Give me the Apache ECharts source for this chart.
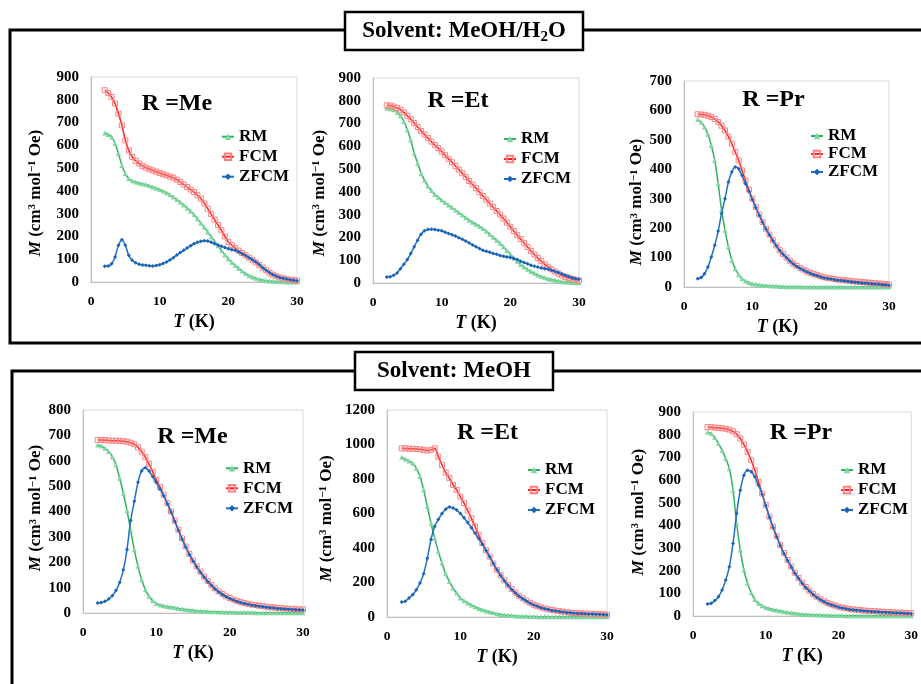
<!DOCTYPE html>
<html><head><meta charset="utf-8">
<script src="https://cdn.jsdelivr.net/npm/echarts@6/dist/echarts.min.js"></script>
<style>html,body{margin:0;padding:0;background:#fff}#c{width:921px;height:684px}</style>
</head><body><div id="c"></div>
<script>
// Temperature grid (K)
const temps = [2,2.5,3,3.5,4,4.5,5,5.5,6,6.5,7,7.5,8,8.5,9,9.5,10,10.5,11,11.5,12,12.5,13,13.5,14,14.5,15,15.5,16,16.5,17,17.5,18,18.5,19,19.5,20,20.5,21,21.5,22,22.5,23,23.5,24,24.5,25,25.5,26,26.5,27,27.5,28,28.5,29,29.5,30];
const seriesNames = ['RM','FCM','ZFCM'];
const xTicks = [0,10,20,30];

// Solvent MeOH/H2O, R = Me
const h2oMeRM   = [654,648,637,608,564,512,476,454,444,439,435,431,428,423,417,412,406,399,392,383,373,362,351,338,325,311,296,278,259,240,220,199,179,159,139,120,102,87,73,60,48,38,29,22,16,12,9,6,4,3,2,1,1,0,0,0,0];
const h2oMeFCM  = [842,830,812,783,739,688,622,578,549,532,520,510,502,495,490,484,479,473,468,463,458,449,439,428,417,406,395,381,366,345,322,298,274,250,227,200,176,162,149,138,127,117,107,97,86,75,63,52,41,32,25,20,16,12,10,8,6];
const h2oMeZFCM = [69,70,80,110,161,186,161,117,95,84,78,75,73,71,70,72,76,81,88,97,107,118,129,139,149,159,168,174,179,181,180,175,168,162,157,151,146,142,139,132,124,116,107,98,88,76,63,52,41,32,25,20,16,13,10,8,6];
// Solvent MeOH/H2O, R = Et
const h2oEtRM   = [768,765,761,750,734,709,673,628,570,526,482,452,426,406,389,376,364,353,342,331,320,309,298,287,276,267,258,249,239,227,214,201,188,174,159,143,126,110,95,82,70,60,51,43,35,29,23,19,15,12,9,6,4,3,2,1,1];
const h2oEtFCM  = [780,779,775,769,761,749,734,719,702,685,668,652,636,621,606,592,577,561,545,530,514,498,482,465,448,432,416,399,382,366,349,333,316,300,283,265,247,228,210,193,176,158,141,125,110,96,82,71,60,50,41,33,26,22,18,15,12];
const h2oEtZFCM = [26,27,34,44,63,82,103,129,159,188,214,229,235,236,235,232,229,223,217,212,206,199,192,184,176,167,159,151,144,139,135,130,126,121,117,114,112,108,103,96,90,84,78,74,70,66,63,60,56,51,46,40,34,28,23,19,16];
// Solvent MeOH/H2O, R = Pr
const h2oPrRM   = [569,561,544,519,481,430,351,262,193,136,91,62,42,28,20,15,11,9,7,6,5,4,3,3,2,2,1,1,1,1,1,0,0,0,0,0,0,0,0,0,0,0,0,0,0,0,0,0,0,0,0,0,0,0,0,0,0];
const h2oPrFCM  = [587,586,585,582,578,571,561,548,532,511,487,459,430,396,362,331,300,272,246,221,198,178,159,141,125,112,100,89,79,72,65,59,53,48,44,40,36,33,31,29,27,25,24,23,22,20,19,18,17,16,15,14,13,12,11,10,8];
const h2oPrZFCM = [28,32,45,68,102,142,190,250,300,357,391,408,402,379,351,325,297,270,244,220,197,177,158,140,124,111,99,88,78,70,63,57,51,46,42,38,34,31,29,27,25,23,22,20,19,17,16,15,14,13,12,11,10,9,8,7,6];
// Solvent MeOH, R = Me
const meohMeRM   = [662,658,649,636,616,584,531,472,404,325,249,184,131,92,66,49,37,32,29,26,24,21,18,16,14,12,11,9,8,7,6,5,5,4,4,3,3,3,2,2,2,2,2,1,1,1,1,1,1,1,1,1,1,1,1,1,1];
const meohMeFCM  = [682,682,681,680,679,679,678,677,675,671,665,653,636,614,588,557,525,496,466,433,400,364,328,294,262,233,207,184,163,144,126,111,97,85,75,66,59,53,47,43,39,36,33,31,29,27,25,23,22,20,19,18,17,16,15,14,14];
const meohMeZFCM = [39,41,46,55,68,89,120,170,250,365,440,515,560,572,560,538,514,488,462,431,398,362,326,292,260,231,205,182,161,142,124,109,95,83,73,64,57,51,45,41,37,34,31,29,27,25,23,21,20,18,17,16,15,14,13,12,12];
// Solvent MeOH, R = Et
const meohEtRM   = [926,915,905,891,862,814,737,641,544,457,380,313,251,206,168,139,110,94,81,70,60,50,42,35,29,24,19,15,12,10,8,6,5,4,4,3,3,2,2,2,2,1,1,1,1,1,1,1,1,1,1,1,1,1,1,1,1];
const meohEtFCM  = [978,977,976,975,974,972,969,965,969,978,930,882,837,805,766,737,698,660,617,573,525,477,428,387,350,310,274,242,212,186,162,141,123,108,95,82,71,63,56,50,44,40,37,34,31,28,25,23,22,21,20,19,18,17,16,15,14];
const meohEtZFCM = [87,92,110,129,158,197,251,340,450,525,565,600,625,638,632,620,600,575,548,518,487,455,422,386,350,310,274,240,210,184,160,139,121,106,93,80,70,62,54,48,43,38,35,32,29,26,24,22,21,20,19,18,17,16,15,14,13];
// Solvent MeOH, R = Pr
const meohPrRM   = [812,805,787,761,731,695,650,555,408,291,203,144,103,73,56,45,38,33,29,25,22,19,16,14,12,10,8,7,6,5,4,4,3,3,2,2,2,2,1,1,1,1,1,1,1,1,1,1,1,1,1,1,1,1,1,1,1];
const meohPrFCM  = [834,833,831,830,828,826,822,815,802,783,756,724,687,643,592,540,489,438,394,352,313,278,247,218,191,168,147,128,112,97,85,74,65,57,51,46,41,37,34,31,29,27,26,24,23,22,21,20,19,18,17,16,15,15,14,13,12];
const meohPrZFCM = [53,56,68,85,115,159,217,320,452,555,621,643,636,614,577,537,487,436,392,350,311,276,245,216,189,166,145,126,110,95,83,72,63,55,49,44,39,35,32,29,27,25,24,22,21,20,19,18,17,16,15,14,13,13,12,11,10];

const FONT = 'Liberation Serif';
const panels = [
  {label:'R =Me', yMax:900,  yInt:100, data:[h2oMeRM,h2oMeFCM,h2oMeZFCM],   grid:{left:91,top:77,width:206,height:205},  lab:[177,103.5], leg:[216,121.7,20], yGap:47, yShift:13.5, xShift:0},
  {label:'R =Et', yMax:900,  yInt:100, data:[h2oEtRM,h2oEtFCM,h2oEtZFCM],   grid:{left:373,top:78,width:206,height:205}, lab:[458,100.5], leg:[498,124,20], yGap:45, yShift:12.5, xShift:0},
  {label:'R =Pr', yMax:700,  yInt:100, data:[h2oPrRM,h2oPrFCM,h2oPrZFCM],   grid:{left:684,top:81,width:205,height:206}, lab:[773.5,100], leg:[805,122,18], yGap:38, yShift:18, xShift:-9},
  {label:'R =Me', yMax:800,  yInt:100, data:[meohMeRM,meohMeFCM,meohMeZFCM], grid:{left:83,top:410,width:220,height:203}, lab:[192.5,437], leg:[220,453.3,20], yGap:37, yShift:-3.5, xShift:0},
  {label:'R =Et', yMax:1200, yInt:200, data:[meohEtRM,meohEtFCM,meohEtZFCM], grid:{left:387,top:410,width:220,height:207}, lab:[487.5,433], leg:[522,455,20], yGap:52, yShift:5, xShift:0},
  {label:'R =Pr', yMax:900,  yInt:100, data:[meohPrRM,meohPrFCM,meohPrZFCM], grid:{left:693,top:412,width:221,height:204}, lab:[801,432.5], leg:[835,455,20], yGap:46, yShift:-2, xShift:0}
];

const styles = {
  RM:   {symbol:'triangle', symbolSize:5, line:'#2fb35f', item:{color:'#7fd6a0'}},
  FCM:  {symbol:'rect', symbolSize:5, line:'#ff2020', item:{color:'rgba(255,255,255,0)', borderColor:'#ff8080', borderWidth:1}},
  ZFCM: {symbol:'diamond', symbolSize:4, line:'#2070c4', item:{color:'#1a64b8'}}
};

const grids = [], xAxes = [], yAxes = [], series = [], legends = [], graphics = [];
const plain = v => String(v);
panels.forEach((p, i) => {
  grids.push(Object.assign({show:true, borderColor:'#d9d9d9', borderWidth:1, backgroundColor:'transparent'}, p.grid));
  xAxes.push({
    type:'value', gridIndex:i, min:xTicks[0], max:xTicks[xTicks.length-1], interval:xTicks[1]-xTicks[0],
    axisLine:{show:true, lineStyle:{color:'#bfbfbf', width:1}}, axisTick:{show:false}, splitLine:{show:false},
    axisLabel:{margin:13, formatter:plain, fontFamily:FONT, fontWeight:'bold', fontSize:13.5, color:'#000'},
    name:'{i|T} (K)', nameLocation:'middle', nameGap:31,
    nameTextStyle:{fontFamily:FONT, fontWeight:'bold', fontSize:18, color:'#000',
      padding: p.xShift < 0 ? [0, -2*p.xShift, 0, 0] : [0, 0, 0, 2*p.xShift],
      rich:{i:{fontFamily:FONT, fontWeight:'bold', fontStyle:'italic', fontSize:18, color:'#000'}}}
  });
  yAxes.push({
    type:'value', gridIndex:i, min:0, max:p.yMax, interval:p.yInt,
    axisLine:{show:true, lineStyle:{color:'#bfbfbf', width:1}}, axisTick:{show:false}, splitLine:{show:false},
    axisLabel:{margin:12, formatter:plain, fontFamily:FONT, fontWeight:'bold', fontSize:15, color:'#000'},
    name:'{i|M} (cm{sup|3} mol{sup|−1} Oe)', nameLocation:'middle', nameGap:p.yGap,
    nameTextStyle:{fontFamily:FONT, fontWeight:'bold', fontSize:17, color:'#000',
      padding: p.yShift > 0 ? [0, 2*p.yShift, 0, 0] : [0, 0, 0, -2*p.yShift],
      rich:{i:{fontFamily:FONT, fontWeight:'bold', fontStyle:'italic', fontSize:17, color:'#000'},
            sup:{fontFamily:FONT, fontWeight:'bold', fontSize:11, color:'#000', verticalAlign:'top'}}}
  });
  seriesNames.forEach((nm, k) => {
    const s = styles[nm];
    series.push({
      type:'line', name:nm, xAxisIndex:i, yAxisIndex:i, smooth:0.3,
      data: temps.map((t, j) => [t, p.data[k][j]]),
      symbol:s.symbol, symbolSize:s.symbolSize, showSymbol:true,
      lineStyle:{color:s.line, width:1.5}, itemStyle:s.item,
      color:s.line, emphasis:{disabled:true}, animation:false, z: k===2?4:(k===1?3:2)
    });
  });
  legends.push({
    data:seriesNames, orient:'vertical', left:p.leg[0], top:p.leg[1], itemGap:0,
    itemWidth:12, itemHeight:8, selectedMode:false,
    textStyle:{fontFamily:FONT, fontWeight:'bold', fontSize:17, color:'#000', lineHeight:p.leg[2]}
  });
  graphics.push({type:'text', x:p.lab[0], y:p.lab[1], style:{text:p.label, fontFamily:FONT, fontWeight:'bold', fontSize:24, fill:'#000', align:'center', verticalAlign:'middle'}});
});

// Frames and solvent boxes
graphics.push({type:'rect', shape:{x:10, y:30, width:1000, height:313}, style:{fill:'none', stroke:'#000', lineWidth:3}, z:-1});
graphics.push({type:'rect', shape:{x:12, y:371, width:1000, height:400}, style:{fill:'none', stroke:'#000', lineWidth:3}, z:-1});
graphics.push({type:'rect', shape:{x:345, y:12, width:238, height:38}, style:{fill:'#fff', stroke:'#000', lineWidth:2.5}});
graphics.push({type:'text', x:464, y:31, style:{
  text:'{b|Solvent: MeOH/H}{s|2}{b|O}', align:'center', verticalAlign:'middle',
  rich:{b:{fontFamily:FONT, fontWeight:'bold', fontSize:23, fill:'#000', lineHeight:28, verticalAlign:'middle'},
        s:{fontFamily:FONT, fontWeight:'bold', fontSize:15, fill:'#000', lineHeight:28, verticalAlign:'bottom'}}}});
graphics.push({type:'rect', shape:{x:355, y:352, width:198, height:38}, style:{fill:'#fff', stroke:'#000', lineWidth:2.5}});
graphics.push({type:'text', x:454, y:371, style:{text:'Solvent: MeOH', fontFamily:FONT, fontWeight:'bold', fontSize:23, fill:'#000', align:'center', verticalAlign:'middle'}});

const chart = echarts.init(document.getElementById('c'), null, {renderer:'canvas'});
chart.setOption({
  animation:false, backgroundColor:'#fff',
  grid:grids, xAxis:xAxes, yAxis:yAxes, series:series, legend:legends, graphic:graphics
});
</script></body></html>
